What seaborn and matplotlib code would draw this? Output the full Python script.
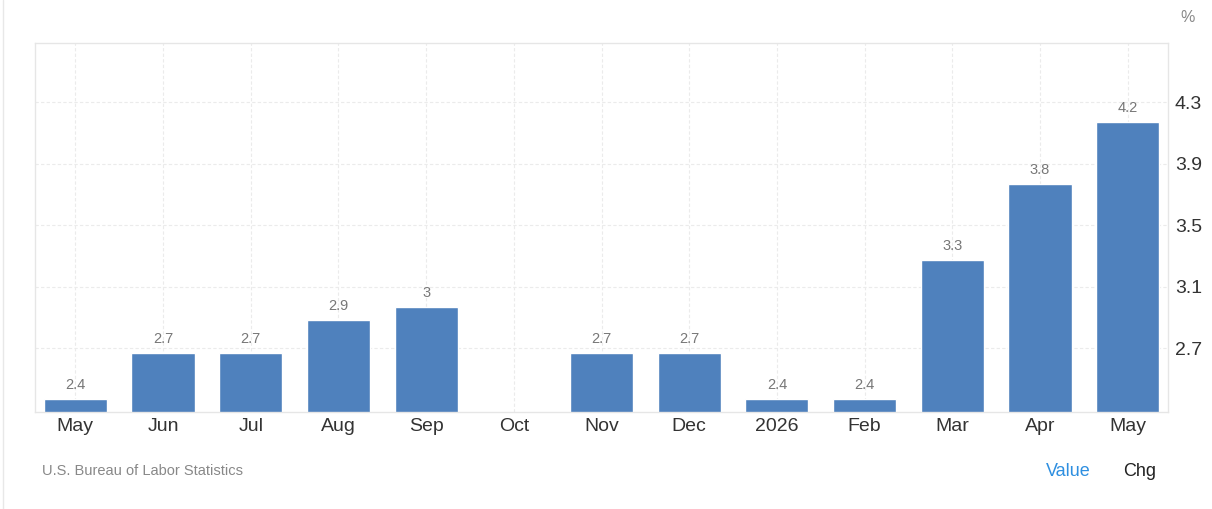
import numpy as np
import pandas as pd
import matplotlib
matplotlib.use("Agg")
import matplotlib.pyplot as plt
import seaborn as sns

# Monthly values (Oct has no data); labels show them rounded
months = ['May', 'Jun', 'Jul', 'Aug', 'Sep', 'Oct', 'Nov', 'Dec', '2026', 'Feb', 'Mar', 'Apr', 'May']
values = [2.37, 2.67, 2.67, 2.88, 2.97, np.nan, 2.67, 2.67, 2.37, 2.37, 3.27, 3.77, 4.17]
yticks = [2.7, 3.1, 3.5, 3.9, 4.3]

data = pd.DataFrame({'pos': range(len(months)), 'value': values})

sns.set_style('white')
plt.rcParams['font.family'] = ['Liberation Sans', 'DejaVu Sans']

fig = plt.figure(figsize=(12.12, 5.09), dpi=100)
ax = fig.add_axes([35 / 1212, 1 - 412 / 509, (1168 - 35) / 1212, (412 - 43) / 509])

sns.barplot(x='pos', y='value', data=data, color='#4f81bd', saturation=1,
            width=0.72, ax=ax, errorbar=None)

# value labels above bars (skip the missing month)
bars = [b for b in ax.containers[0] if b is not None]
for b in bars:
    v = b.get_height()
    if np.isnan(v):
        continue
    ax.annotate(f'{round(v, 1):g}', (b.get_x() + b.get_width() / 2, v), xytext=(0, 5),
                textcoords='offset points', ha='center', va='bottom',
                fontsize=10.5, color='#777777')

ax.set_xlim(-0.46, len(months) - 0.54)
ax.set_ylim(2.284, 4.684)
ax.set_xticks(range(len(months)))
ax.set_xticklabels(months)
ax.set_yticks(yticks)
ax.set_yticklabels([f'{t:g}' for t in yticks])
ax.yaxis.tick_right()
ax.tick_params(axis='both', length=0, labelsize=14, labelcolor='#333333')
ax.tick_params(axis='x', pad=4.5)
ax.tick_params(axis='y', pad=5)
ax.set_xlabel('')
ax.set_ylabel('')

ax.grid(True, color='#ebebeb', linestyle=(0, (3, 2)), linewidth=0.8)
ax.set_axisbelow(True)
for s in ax.spines.values():
    s.set_color('#e6e6e6')
    s.set_linewidth(1)

fig.text(1188 / 1212, 1 - 18 / 509, '%', fontsize=11.5, color='#888888', ha='center', va='center')
fig.text(42 / 1212, 1 - 471 / 509, 'U.S. Bureau of Labor Statistics', fontsize=10.5,
         color='#888888', ha='left', va='center')
fig.text(1068 / 1212, 1 - 471 / 509, 'Value', fontsize=13, color='#2e8fe0', ha='center', va='center')
fig.text(1140 / 1212, 1 - 471 / 509, 'Chg', fontsize=13, color='#222222', ha='center', va='center')

# left page border
fig.add_artist(plt.Line2D([3 / 1212, 3 / 1212], [0, 1], color='#e8e8e8', linewidth=1))

fig.savefig('out.png', dpi=100)
